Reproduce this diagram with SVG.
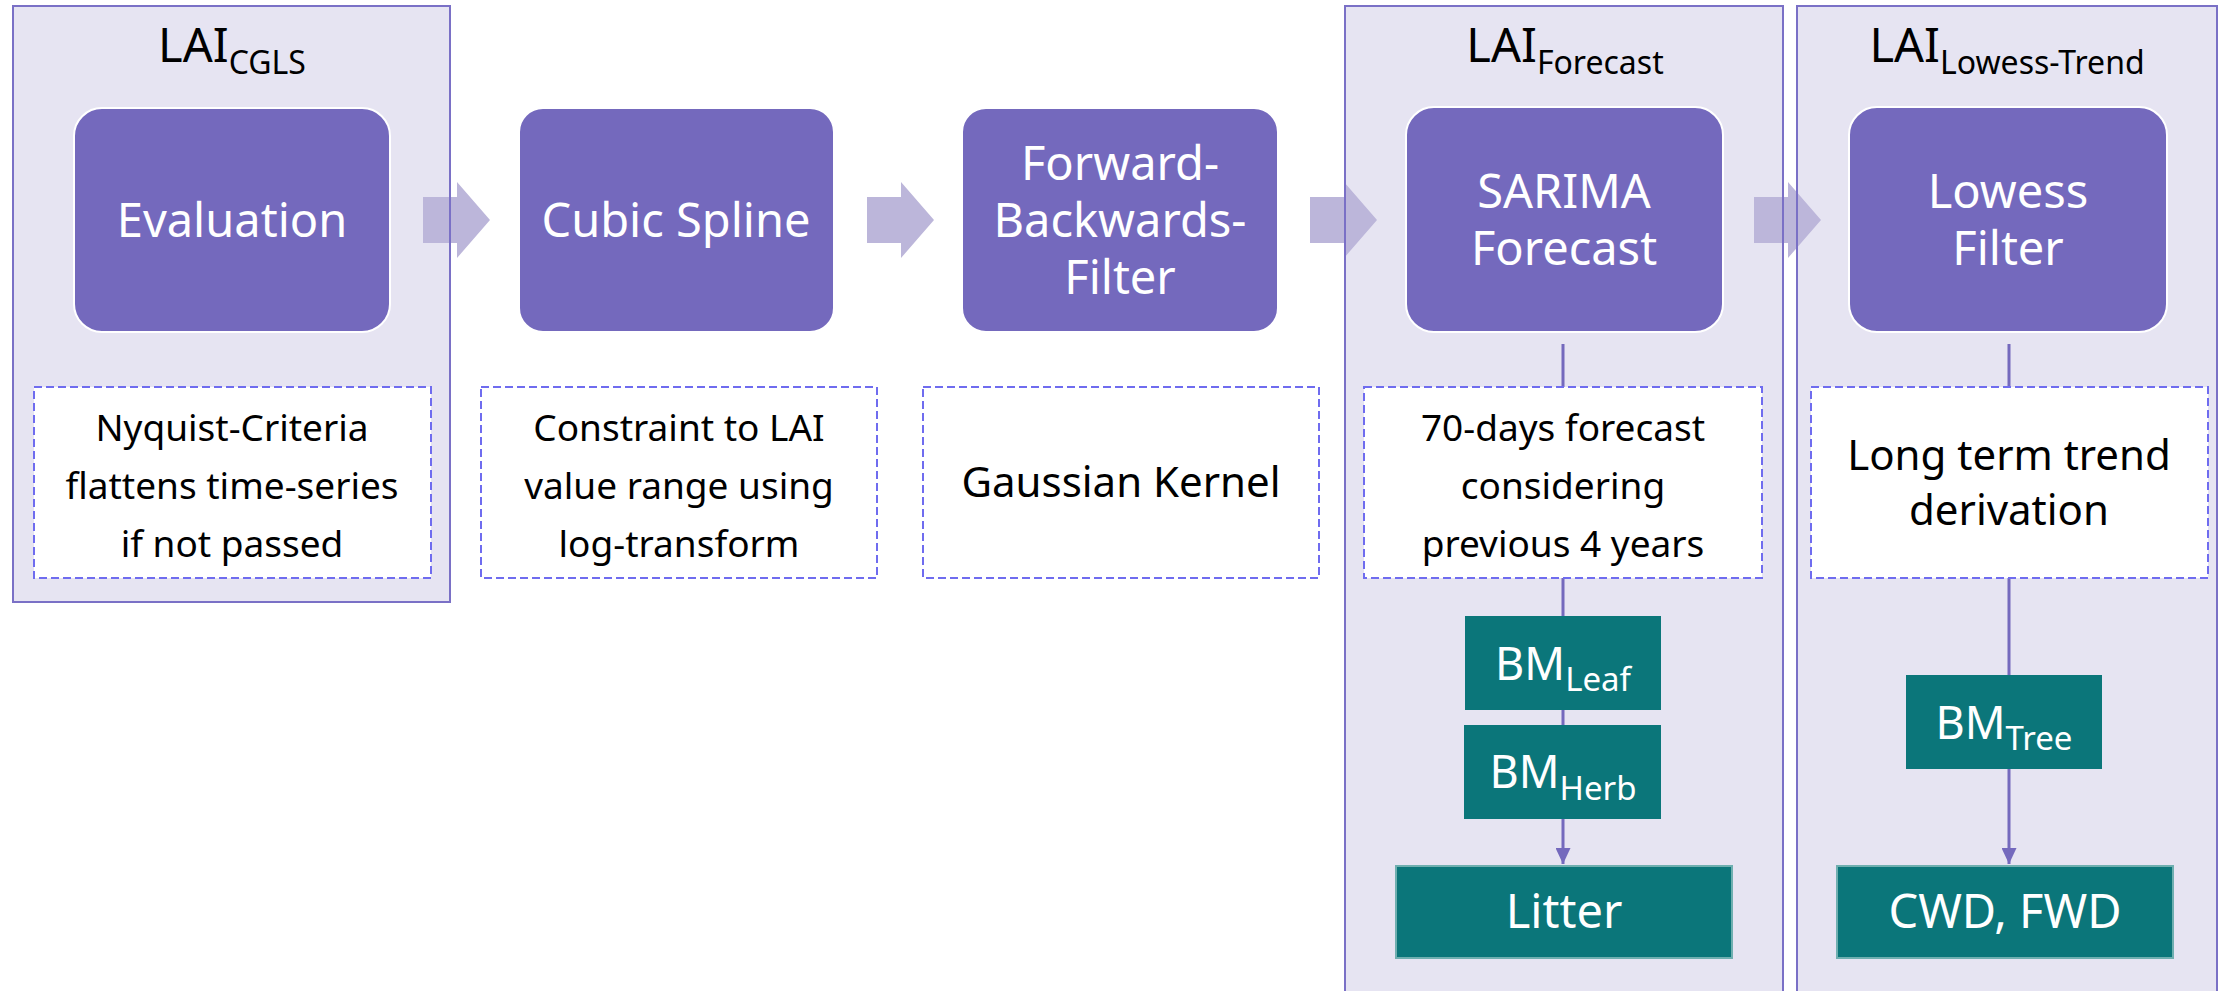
<svg xmlns="http://www.w3.org/2000/svg" width="2226" height="991" viewBox="0 0 2226 991">
<defs>
<style>
.cont{fill:#E6E4F2;stroke:none}
.contb{fill:none;stroke:#7A70C6;stroke-width:2}
.proc{fill:#7469BD;stroke:#FFFFFF;stroke-width:2}
.note{fill:#FFFFFF;stroke:#6F6CEF;stroke-width:2;stroke-dasharray:8 4}
.teal{fill:#0B767A}
.tealb{fill:#0B767A;stroke:#6FAFB0;stroke-width:2}
.arr{fill:#BCB6DA}
.conn{stroke:#7469BD;stroke-width:3;fill:none}
text{font-family:"Noto Sans","Open Sans","DejaVu Sans",sans-serif;text-anchor:middle}
.title{font-size:47px;fill:#000}
.sub{font-size:32px}
.pt{font-size:47px;fill:#FFFFFF}
.nt{font-size:37px;fill:#000}
.nt2{font-size:42px;fill:#000}
.bm{font-size:45px;fill:#FFFFFF}
.bms{font-size:33px}
</style>
<marker id="ah" viewBox="0 0 16 15" refX="16" refY="7.5" markerWidth="16" markerHeight="15" markerUnits="userSpaceOnUse" orient="auto">
<path d="M0,0 L16,7.5 L0,15 Z" fill="#7469BD"/>
</marker>
</defs>
<rect width="2226" height="991" fill="#FFFFFF"/>

<g id="containers">
<rect id="c-cgls" class="cont" x="13" y="6" width="437" height="596"/>
<rect id="c-forecast" class="cont" x="1345" y="6" width="438" height="1000"/>
<rect id="c-lowess" class="cont" x="1797" y="6" width="420" height="1000"/>
</g>

<g id="arrows">
<path class="arr" d="M423,197 H457 V182 L490,220 L457,258 V243 H423 Z"/>
<path class="arr" d="M867,197 H901 V182 L934,220 L901,258 V243 H867 Z"/>
<path class="arr" d="M1310,197 H1344 V182 L1377,220 L1344,258 V243 H1310 Z"/>
<path class="arr" d="M1754,197 H1788 V182 L1821,220 L1788,258 V243 H1754 Z"/>
</g>

<g id="container-borders">
<rect class="contb" x="13" y="6" width="437" height="596"/>
<rect class="contb" x="1345" y="6" width="438" height="1000"/>
<rect class="contb" x="1797" y="6" width="420" height="1000"/>
<text class="title" x="232" y="62">LAI<tspan class="sub" dy="12">CGLS</tspan></text>
<text class="title" x="1565" y="62">LAI<tspan class="sub" dy="12">Forecast</tspan></text>
<text class="title" x="2007" y="62">LAI<tspan class="sub" dy="12">Lowess-Trend</tspan></text>
</g>

<g id="connectors">
<line class="conn" x1="1563" y1="344" x2="1563" y2="387"/>
<line class="conn" x1="1563" y1="578" x2="1563" y2="616"/>
<line class="conn" x1="1563" y1="710" x2="1563" y2="725"/>
<line class="conn" x1="1563" y1="819" x2="1563" y2="864" marker-end="url(#ah)"/>
<line class="conn" x1="2009" y1="344" x2="2009" y2="387"/>
<line class="conn" x1="2009" y1="578" x2="2009" y2="675"/>
<line class="conn" x1="2009" y1="769" x2="2009" y2="864" marker-end="url(#ah)"/>
</g>

<g id="evaluation">
<rect class="proc" x="74" y="108" width="316" height="224" rx="28"/>
<text class="pt" x="232" y="237">Evaluation</text>
</g>
<g id="note-nyquist">
<rect class="note" x="34" y="387" width="397" height="191"/>
<text class="nt" x="232" y="441">Nyquist-Criteria</text>
<text class="nt" x="232" y="499">flattens time-series</text>
<text class="nt" x="232" y="557">if not passed</text>
</g>

<g id="cubic-spline">
<rect class="proc" x="519" y="108" width="315" height="224" rx="24"/>
<text class="pt" x="676" y="237">Cubic Spline</text>
</g>
<g id="note-constraint">
<rect class="note" x="481" y="387" width="396" height="191"/>
<text class="nt" x="679" y="441">Constraint to LAI</text>
<text class="nt" x="679" y="499">value range using</text>
<text class="nt" x="679" y="557">log-transform</text>
</g>

<g id="fb-filter">
<rect class="proc" x="962" y="108" width="316" height="224" rx="24"/>
<text class="pt" x="1120" y="180">Forward-</text>
<text class="pt" x="1120" y="237">Backwards-</text>
<text class="pt" x="1120" y="294">Filter</text>
</g>
<g id="note-gaussian">
<rect class="note" x="923" y="387" width="396" height="191"/>
<text class="nt2" x="1121" y="497">Gaussian Kernel</text>
</g>

<g id="sarima">
<rect class="proc" x="1406" y="107" width="317" height="225" rx="28"/>
<text class="pt" x="1564" y="208">SARIMA</text>
<text class="pt" x="1564" y="265">Forecast</text>
</g>
<g id="note-forecast">
<rect class="note" x="1364" y="387" width="398" height="191"/>
<text class="nt" x="1563" y="441">70-days forecast</text>
<text class="nt" x="1563" y="499">considering</text>
<text class="nt" x="1563" y="557">previous 4 years</text>
</g>
<g id="bm-leaf">
<rect class="teal" x="1465" y="616" width="196" height="94"/>
<text class="bm" x="1563" y="680">BM<tspan class="bms" dy="11">Leaf</tspan></text>
</g>
<g id="bm-herb">
<rect class="teal" x="1464" y="725" width="197" height="94"/>
<text class="bm" x="1563" y="788">BM<tspan class="bms" dy="12">Herb</tspan></text>
</g>
<g id="litter">
<rect class="tealb" x="1396" y="866" width="336" height="92"/>
<text class="pt" x="1564" y="928">Litter</text>
</g>

<g id="lowess">
<rect class="proc" x="1849" y="107" width="318" height="225" rx="28"/>
<text class="pt" x="2008" y="208">Lowess</text>
<text class="pt" x="2008" y="265">Filter</text>
</g>
<g id="note-trend">
<rect class="note" x="1811" y="387" width="397" height="191"/>
<text class="nt2" x="2009" y="470">Long term trend</text>
<text class="nt2" x="2009" y="525">derivation</text>
</g>
<g id="bm-tree">
<rect class="teal" x="1906" y="675" width="196" height="94"/>
<text class="bm" x="2004" y="739">BM<tspan class="bms" dy="11">Tree</tspan></text>
</g>
<g id="cwd-fwd">
<rect class="tealb" x="1837" y="866" width="336" height="92"/>
<text class="pt" x="2005" y="928">CWD, FWD</text>
</g>
</svg>
